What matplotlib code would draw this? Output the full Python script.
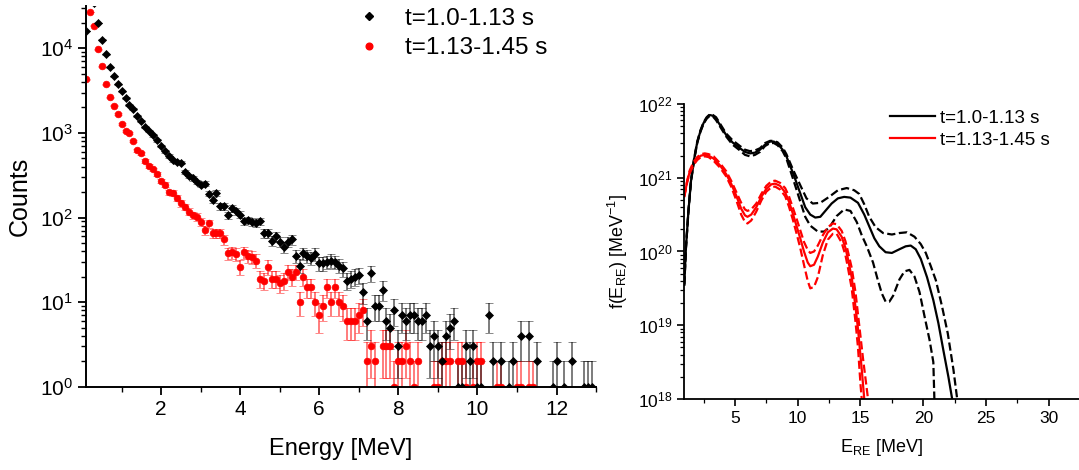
import numpy as np
import matplotlib
matplotlib.use("Agg")
import matplotlib.pyplot as plt
from matplotlib.lines import Line2D
from matplotlib.ticker import MultipleLocator, LogLocator, NullFormatter

plt.rcParams['font.family'] = ['Liberation Sans', 'DejaVu Sans']
plt.rcParams['mathtext.fontset'] = 'custom'
plt.rcParams['mathtext.rm'] = 'Liberation Sans'
plt.rcParams['mathtext.it'] = 'Liberation Sans:italic'
plt.rcParams['mathtext.default'] = 'regular'

# ---- left panel: measured spectra (counts per 0.1 MeV bin) ----
energy = np.round(np.arange(1, 130) * 0.1, 1)   # bin centres 0.1 .. 12.9 MeV

counts_early = [
    16000, 40000, 34000, 20000, 12600, 8500, 6000, 4700, 3750, 3100,
    2600, 2150, 1900, 1580, 1380, 1180, 1050, 935, 815, 700,
    605, 535, 475, 455, 445, 345, 310, 290, 265, 245,
    252, 192, 160, 195, 136, 136, 107, 128, 118, 108,
    90, 93, 88, 87, 90, 66, 66, 53, 60, 52,
    45, 52, 55, 35, 27, 38, 35, 33, 37, 29,
    29, 30, 31, 30, 27, 25, 18, 19, 20, 21,
    13, 6, 22, 9, 9, 14, 6, 5, 8, 3,
    7, 6, 7, 7, 6, 6, 7, 3, 4, 3,
    2, 4, 5, 6, 1, 1, 3, 2, 3, 1,
    1, 0, 7, 2, 0, 2, 0, 1, 2, 0,
    4, 0, 4, 0, 2, 0, 0, 0, 1, 2,
    0, 1, 0, 2, 0, 0, 1, 1, 1,
]
counts_late = [
    4300, 27000, 18500, 9700, 6100, 3750, 2630, 2100, 1660, 1260,
    1045, 1000, 800, 620, 575, 465, 410, 370, 325, 270,
    245, 200, 195, 170, 147, 134, 117, 107, 102, 89,
    71, 85, 65, 65, 66, 55, 38, 39, 37, 26,
    39, 35, 34, 31, 19, 18, 26, 19, 19, 17,
    18, 23, 20, 23, 10, 20, 15, 15, 10, 7,
    9, 15, 10, 15, 10, 9, 6, 6, 6, 7,
    8, 2, 3, 2, 0, 3, 3, 3, 1, 2,
    2, 3, 2, 1, 2, 0, 0, 0, 1, 1,
    2, 2, 2, 0, 2, 2, 1, 0, 1, 2,
    2, 0, 0, 0, 1, 1, 0, 0, 0, 1,
    1, 0, 1, 1, 0, 0, 0, 0, 0, 0,
    0, 0, 0, 0, 0, 0, 0, 0, 0,
]
labels = ['t=1.0-1.13 s', 't=1.13-1.45 s']

# ---- right panel: reconstructed RE distribution, log10 f(E) ----
e_early = [0.97, 1.1, 1.3, 1.5, 1.75, 2.0, 2.25, 2.5, 2.75, 3.0, 3.25, 3.5, 3.9, 4.3,
           4.8, 5.4, 5.8, 6.2, 6.6, 7.0, 7.4, 7.8, 8.1, 8.4, 8.8, 9.1, 9.4, 9.7, 10.2,
           10.6, 11.0, 11.4, 11.8, 12.2, 12.7, 13.2, 13.7, 14.2, 14.8, 15.3, 15.7, 16.1,
           16.5, 17.0, 17.5, 18.1, 18.6, 19.0, 19.4, 19.8, 20.3, 20.8, 21.2, 21.6, 22.0,
           22.3, 22.4]
f_early = [19.55, 20.05, 20.55, 20.95, 21.25, 21.48, 21.63, 21.74, 21.81, 21.85, 21.84,
           21.80, 21.69, 21.58, 21.48, 21.40, 21.35, 21.33, 21.34, 21.38, 21.45, 21.49,
           21.49, 21.46, 21.38, 21.29, 21.16, 21.03, 20.79, 20.60, 20.50, 20.46, 20.47,
           20.55, 20.65, 20.72, 20.74, 20.73, 20.66, 20.50, 20.34, 20.18, 20.07, 19.99,
           19.98, 20.03, 20.07, 20.08, 20.03, 19.90, 19.65, 19.34, 19.03, 18.66, 18.30,
           18.0, 17.85]
e_early_hi = [0.97, 1.1, 1.3, 1.5, 1.75, 2.0, 2.25, 2.5, 2.75, 3.0, 3.25, 3.5, 3.9, 4.3,
              4.8, 5.4, 5.8, 6.2, 6.6, 7.0, 7.4, 7.8, 8.1, 8.4, 8.8, 9.1, 9.6, 10.2,
              10.7, 11.2, 11.8, 12.5, 13.2, 13.9, 14.5, 14.9, 15.3, 15.7, 16.2, 16.8,
              17.5, 18.1, 18.7, 19.3, 19.8, 20.2, 20.6, 21.0, 21.5, 21.95, 22.4, 22.7,
              22.8]
f_early_hi = [19.56, 20.06, 20.56, 20.96, 21.26, 21.49, 21.64, 21.75, 21.82, 21.86,
              21.85, 21.82, 21.71, 21.60, 21.51, 21.43, 21.38, 21.36, 21.37, 21.40,
              21.47, 21.50, 21.50, 21.48, 21.41, 21.32, 21.12, 20.90, 20.72, 20.65,
              20.66, 20.74, 20.83, 20.86, 20.83, 20.78, 20.64, 20.47, 20.33, 20.25,
              20.23, 20.25, 20.26, 20.20, 20.10, 19.98, 19.80, 19.61, 19.25, 18.89,
              18.40, 18.0, 17.85]
e_early_lo = [0.97, 1.1, 1.3, 1.5, 1.75, 2.0, 2.25, 2.5, 2.75, 3.0, 3.25, 3.5, 3.9, 4.3,
              4.8, 5.4, 5.8, 6.2, 6.6, 7.0, 7.4, 7.8, 8.1, 8.4, 8.8, 9.1, 9.6, 10.2,
              10.6, 11.0, 11.6, 12.1, 12.5, 13.1, 13.7, 14.2, 14.7, 15.1, 15.5, 16.0,
              16.4, 16.7, 17.0, 17.3, 17.6, 18.1, 18.5, 18.9, 19.3, 19.7, 20.1, 20.5,
              20.8, 20.85, 20.9]
f_early_lo = [19.54, 20.04, 20.54, 20.94, 21.24, 21.47, 21.62, 21.73, 21.80, 21.84,
              21.83, 21.78, 21.67, 21.56, 21.45, 21.37, 21.31, 21.29, 21.31, 21.35,
              21.43, 21.47, 21.47, 21.44, 21.36, 21.26, 21.00, 20.68, 20.47, 20.35,
              20.27, 20.27, 20.32, 20.48, 20.57, 20.55, 20.40, 20.22, 20.07, 19.85,
              19.60, 19.43, 19.32, 19.32, 19.40, 19.62, 19.73, 19.75, 19.66, 19.45,
              19.12, 18.80, 18.50, 18.20, 17.90]

e_late = [0.97, 1.2, 1.4, 1.7, 2.0, 2.3, 2.6, 2.9, 3.3, 3.8, 4.3, 4.7, 5.1, 5.5, 5.8,
          6.0, 6.3, 6.7, 7.1, 7.5, 7.9, 8.2, 8.6, 9.0, 9.3, 9.6, 9.9, 10.2, 10.5, 10.8,
          11.0, 11.3, 11.6, 12.0, 12.4, 12.8, 13.1, 13.5, 13.8, 14.0, 14.3, 14.6, 14.8,
          15.1, 15.3, 15.4]
f_late = [20.75, 20.95, 21.08, 21.19, 21.26, 21.30, 21.31, 21.30, 21.26, 21.17, 21.05,
          20.92, 20.76, 20.58, 20.49, 20.47, 20.50, 20.60, 20.74, 20.85, 20.91, 20.92,
          20.89, 20.80, 20.68, 20.52, 20.35, 20.18, 20.00, 19.85, 19.80, 19.82, 19.93,
          20.12, 20.26, 20.31, 20.30, 20.20, 20.05, 19.90, 19.65, 19.25, 18.95, 18.40,
          18.0, 17.85]
e_late_hi = [0.97, 1.2, 1.4, 1.7, 2.0, 2.3, 2.6, 2.9, 3.3, 3.8, 4.3, 4.7, 5.1, 5.5, 5.8,
             6.0, 6.3, 6.7, 7.1, 7.5, 7.9, 8.2, 8.6, 9.0, 9.3, 9.6, 9.9, 10.2, 10.5,
             10.8, 11.0, 11.3, 11.6, 12.0, 12.4, 12.8, 13.1, 13.5, 13.8, 14.0, 14.3,
             14.6, 14.9, 15.2, 15.6, 15.7]
f_late_hi = [20.76, 20.96, 21.10, 21.21, 21.28, 21.32, 21.33, 21.32, 21.29, 21.20,
             21.09, 20.96, 20.81, 20.66, 20.57, 20.55, 20.57, 20.65, 20.78, 20.89,
             20.95, 20.96, 20.93, 20.86, 20.75, 20.60, 20.45, 20.29, 20.13, 20.02,
             19.98, 20.00, 20.08, 20.22, 20.33, 20.38, 20.37, 20.28, 20.14, 20.00,
             19.78, 19.45, 19.00, 18.55, 18.0, 17.85]
e_late_lo = [0.97, 1.2, 1.4, 1.7, 2.0, 2.3, 2.6, 2.9, 3.3, 3.8, 4.3, 4.7, 5.1, 5.5, 5.8,
             6.0, 6.3, 6.7, 7.1, 7.5, 7.9, 8.2, 8.6, 9.0, 9.3, 9.6, 9.9, 10.2, 10.5,
             10.8, 11.0, 11.3, 11.6, 12.0, 12.4, 12.8, 13.1, 13.5, 13.8, 14.0, 14.3,
             14.6, 14.8, 15.0, 15.1, 15.2]
f_late_lo = [20.74, 20.94, 21.06, 21.17, 21.24, 21.28, 21.29, 21.28, 21.23, 21.14,
             21.02, 20.88, 20.70, 20.50, 20.40, 20.38, 20.42, 20.54, 20.69, 20.81,
             20.87, 20.88, 20.84, 20.75, 20.61, 20.44, 20.25, 20.05, 19.82, 19.60,
             19.50, 19.52, 19.65, 19.95, 20.16, 20.24, 20.24, 20.12, 19.95, 19.78,
             19.50, 19.05, 18.70, 18.20, 18.0, 17.85]

fig = plt.figure(figsize=(10.79, 4.70), dpi=100)

# left panel
ax1 = fig.add_axes([0.0797, 0.1772, 0.4727, 0.810])
for cnt, col, mk, ms in [(counts_late, 'red', 'o', 4.8), (counts_early, 'black', 'D', 3.8)]:
    c = np.array(cnt, dtype=float)
    c[c <= 0] = np.nan
    err = np.sqrt(c)
    ax1.errorbar(energy, c, yerr=err, fmt=mk, color=col, ms=ms, ecolor=col,
                 elinewidth=1.1, capsize=3.2, capthick=1.1, markeredgewidth=0.5)
# error bars a bit transparent, like the original
for coll in ax1.collections:
    coll.set_alpha(0.65)
for ln in ax1.lines:
    if ln.get_marker() == '_':
        ln.set_alpha(0.65)

ax1.set_yscale('log')
ax1.set_xlim(0.1, 13)
ax1.set_ylim(1, 3.16e4)
ax1.xaxis.set_major_locator(MultipleLocator(2))
ax1.xaxis.set_minor_locator(MultipleLocator(1))
ax1.yaxis.set_major_locator(LogLocator(base=10))
ax1.yaxis.set_minor_locator(LogLocator(base=10, subs=np.arange(2, 10)))
ax1.yaxis.set_minor_formatter(NullFormatter())
for s in ['top', 'right']:
    ax1.spines[s].set_visible(False)
for s in ['left', 'bottom']:
    ax1.spines[s].set_linewidth(1.4)
ax1.tick_params(which='major', length=6, width=1.3, labelsize=15)
ax1.tick_params(which='minor', length=3.5, width=1.0)
ax1.set_xlabel('Energy [MeV]', fontsize=17, labelpad=14)
ax1.set_ylabel('Counts', fontsize=18, labelpad=6)

handles = [Line2D([], [], ls='none', marker='D', color='black', ms=3.8),
           Line2D([], [], ls='none', marker='o', color='red', ms=4.8)]
ax1.legend(handles, labels, loc='upper left', bbox_to_anchor=(0.531, 0.995),
           frameon=False, fontsize=17.5, handlelength=1.0, handletextpad=1.0,
           labelspacing=0.3, borderpad=0, borderaxespad=0)

# right panel
ax2 = fig.add_axes([0.6342, 0.1511, 0.3658, 0.6277])
ax2.plot(e_early, 10 ** np.array(f_early), color='black', lw=1.6, label=labels[0])
ax2.plot(e_late, 10 ** np.array(f_late), color='red', lw=1.6, label=labels[1])
ax2.plot(e_early_hi, 10 ** np.array(f_early_hi), color='black', lw=1.6, ls='--')
ax2.plot(e_early_lo, 10 ** np.array(f_early_lo), color='black', lw=1.6, ls='--')
ax2.plot(e_late_hi, 10 ** np.array(f_late_hi), color='red', lw=1.6, ls='--')
ax2.plot(e_late_lo, 10 ** np.array(f_late_lo), color='red', lw=1.6, ls='--')

ax2.set_yscale('log')
ax2.set_xlim(0.97, 32.4)
ax2.set_ylim(1e18, 1e22)
ax2.xaxis.set_major_locator(MultipleLocator(5))
ax2.xaxis.set_minor_locator(MultipleLocator(2.5))
ax2.yaxis.set_major_locator(LogLocator(base=10))
ax2.yaxis.set_minor_locator(LogLocator(base=10, subs=np.arange(2, 10)))
ax2.yaxis.set_minor_formatter(NullFormatter())
for s in ['top', 'right']:
    ax2.spines[s].set_visible(False)
for s in ['left', 'bottom']:
    ax2.spines[s].set_linewidth(1.3)
ax2.tick_params(which='major', length=5, width=1.2, labelsize=12.5)
ax2.tick_params(which='minor', length=3, width=0.9)
ax2.set_xlabel('E$_{RE}$ [MeV]', fontsize=13, labelpad=8)
ax2.set_ylabel('f(E$_{RE}$) [MeV$^{-1}$]', fontsize=13, labelpad=6)
ax2.legend(loc='upper left', bbox_to_anchor=(0.52, 0.98), frameon=False,
           fontsize=13.5, handlelength=2.4, handletextpad=0.3, labelspacing=0.25,
           borderpad=0, borderaxespad=0)

fig.savefig('out.png', dpi=100)
